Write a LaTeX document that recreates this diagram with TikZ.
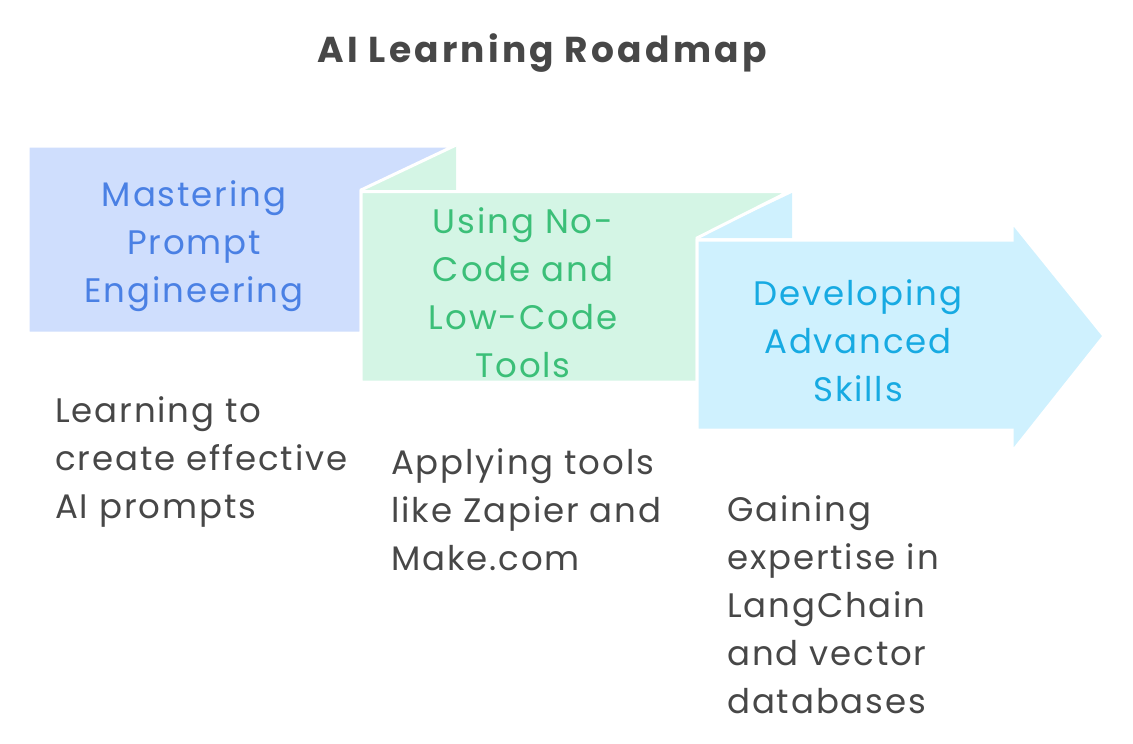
\documentclass[tikz,border=0pt]{standalone}
\usepackage{fontspec}
\setmainfont{Poppins}
\definecolor{bluefill}{HTML}{CFDEFD}
\definecolor{greenfill}{HTML}{D4F5E5}
\definecolor{cyanfill}{HTML}{CFF1FE}
\definecolor{bluetext}{HTML}{4A80E4}
\definecolor{greentext}{HTML}{3BBF78}
\definecolor{cyantext}{HTML}{17AAE2}
\definecolor{darktext}{HTML}{474747}
\newfontfamily\bodyfont[LetterSpace=5.5]{Poppins}
\newfontfamily\titlefont[LetterSpace=9]{Poppins Bold}
\tikzset{
  stepshape/.style={draw=white, line width=3pt, line join=miter},
  steplabel/.style={align=center, font=\bodyfont\fontsize{34}{48}\selectfont, inner sep=0pt},
  desclabel/.style={align=left, anchor=west, text=darktext, font=\bodyfont\fontsize{34}{48}\selectfont, inner sep=0pt},
}
\begin{document}
\begin{tikzpicture}[x=1pt,y=-1pt]
\useasboundingbox (0,0) rectangle (1133,744);
% folds
\fill[greenfill] (456,146) -- (456,190) -- (361,190) -- cycle;
\fill[cyanfill] (792,193) -- (792,238) -- (697,238) -- cycle;
% step 1
\path[stepshape, fill=bluefill] (28,146) -- (454,146) -- (361,190) -- (361,333) -- (28,333) -- cycle;
% step 2
\path[stepshape, fill=greenfill] (361,191.5) -- (789,191.5) -- (697,238) -- (697,382) -- (361,382) -- cycle;
% step 3 arrow
\path[stepshape, fill=cyanfill] (697,240) -- (1012,240) -- (1012,222) -- (1104,336) -- (1012,452) -- (1012,430) -- (697,430) -- cycle;
% title
\node[font=\titlefont\fontsize{36}{40}\selectfont, text=darktext] (title) at (542,53) {AI Learning Roadmap};
% labels
\node[steplabel, text=bluetext] (l1) at (194,246) {Mastering\\Prompt\\Engineering};
\node[steplabel, text=greentext] (l2) at (523,293) {Using No-\\Code and\\Low-Code\\Tools};
\node[steplabel, text=cyantext] (l3) at (858,341) {Developing\\Advanced\\Skills};
% descriptions
\node[desclabel] (d1) at (55,462) {Learning to\\create effective\\AI prompts};
\node[desclabel] (d2) at (391,509.5) {Applying tools\\like Zapier and\\Make.com};
\node[desclabel] (d3) at (727,605) {Gaining\\expertise in\\LangChain\\and vector\\databases};
\end{tikzpicture}
\end{document}
